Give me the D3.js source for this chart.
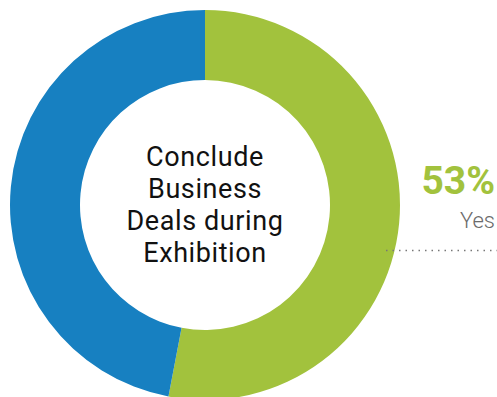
<!DOCTYPE html>
<html>
<head>
<meta charset="utf-8">
<script src="https://cdn.jsdelivr.net/npm/d3@7"></script>
<style>
	html, body { margin: 0; padding: 0; background: #fff; }
	svg { display: block; }
</style>
</head>
<body>
<div id="chart"></div>
<script>
// chart values
var categories = ['Yes', 'No'];
var values = [53, 47];
var colors = ['#a2c23d', '#1780c1'];
var titleLines = ['Conclude', 'Business', 'Deals during', 'Exhibition'];

var width = 497, height = 397;
var cx = 205, cy = 205;
var outerR = 195, innerR = 125;

var svg = d3.select('#chart').append('svg')
	.attr('width', width)
	.attr('height', height)
	.style('font-family', 'Roboto, "DejaVu Sans", sans-serif');

var pie = d3.pie()
	.value(function(d) { return d; })
	.sort(null);

var arc = d3.arc()
	.innerRadius(innerR)
	.outerRadius(outerR);

var colorScale = d3.scaleOrdinal().domain(categories).range(colors);

var g = svg.append('g')
	.attr('transform', 'translate(' + cx + ',' + cy + ')');

// slices
g.selectAll('path')
	.data(pie(values))
	.enter()
	.append('path')
	.attr('d', arc)
	.attr('fill', function(d, i) { return colorScale(categories[i]); });

// centre title
g.append('text')
	.attr('text-anchor', 'middle')
	.attr('fill', '#111')
	.style('font-size', '27px')
	.style('letter-spacing', '0.6px')
	.selectAll('tspan')
	.data(titleLines)
	.enter()
	.append('tspan')
	.attr('x', 0)
	.attr('y', function(d, i) { return -39 + i * 32; })
	.text(function(d) { return d; });

// label for the first slice
var pct = Math.round(values[0] / d3.sum(values) * 100);

svg.append('text')
	.attr('x', 495)
	.attr('y', 194)
	.attr('text-anchor', 'end')
	.attr('fill', colors[0])
	.style('font-size', '39px')
	.style('font-weight', 'bold')
	.text(pct + '%');

svg.append('text')
	.attr('x', 495)
	.attr('y', 228)
	.attr('text-anchor', 'end')
	.attr('fill', '#6b6b6b')
	.style('font-size', '22px')
	.style('font-weight', 300)
	.text(categories[0]);

// dotted leader line
svg.append('line')
	.attr('x1', 386)
	.attr('x2', 497)
	.attr('y1', 250.5)
	.attr('y2', 250.5)
	.attr('stroke', '#777')
	.attr('stroke-width', 1.5)
	.attr('stroke-dasharray', '1.5,5');
</script>
</body>
</html>
